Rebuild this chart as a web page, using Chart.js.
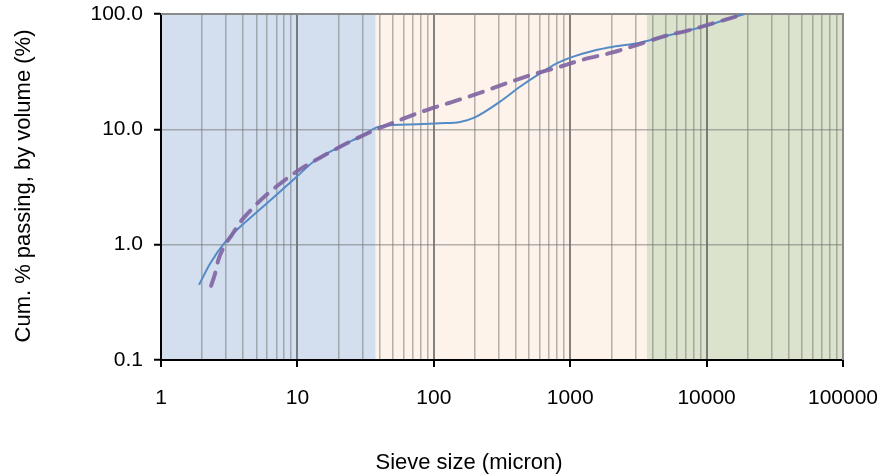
<!DOCTYPE html>
<html>
<head>
<meta charset="utf-8">
<script src="https://cdn.jsdelivr.net/npm/chart.js@4/dist/chart.umd.min.js"></script>
<style>
  html, body { margin: 0; padding: 0; background: #fff; }
  #wrap { width: 883px; height: 474px; }
</style>
</head>
<body>
<div id="wrap"><canvas id="psdChart"></canvas></div>
<script>
// Measured curve (solid) and model curve (dashed)
const solidX = [1.9, 2.3, 2.95, 3.69, 5, 7, 9.88, 13.1, 20.5, 30.4, 38.1, 50, 75, 111, 156, 200, 306, 428, 601, 796, 1054, 1479, 2070, 3250, 4065, 7550, 10000, 14000, 19000];
const solidY = [0.45, 0.69, 1.05, 1.38, 1.9, 2.7, 3.88, 5.24, 7.07, 8.93, 10.4, 10.9, 11.05, 11.27, 11.6, 12.7, 17.4, 23.4, 30.6, 37.3, 42.7, 48.1, 52.1, 56.4, 60.3, 72.6, 79, 90, 100];

const dashedX = [2.33, 2.49, 2.63, 2.9, 3.3, 3.75, 4.37, 5.08, 6.02, 7.25, 10.45, 15.9, 24.3, 37, 56.5, 88.7, 131, 212, 342, 507, 841, 1247, 2014, 3075, 4955, 7550, 12200, 19000];
const dashedY = [0.44, 0.56, 0.735, 0.96, 1.21, 1.53, 1.89, 2.28, 2.75, 3.29, 4.5, 5.98, 7.81, 9.86, 12.05, 14.7, 17.0, 20.5, 25.1, 29.4, 34.9, 40.3, 46.2, 53.8, 64.4, 72.6, 85.7, 100];

// Axis ticks
const xTicks = [1, 10, 100, 1000, 10000, 100000];
const xTickLabels = ["1", "10", "100", "1000", "10000", "100000"];
const yTicks = [0.1, 1, 10, 100];
const yTickLabels = ["0.1", "1.0", "10.0", "100.0"];

// Background size classes (micron boundaries)
const zoneEdges = [1, 37.5, 3650, 100000];
const zoneColors = ["#d3dfee", "#fdf3ea", "#dbe3cd"];

const FONT = "'Liberation Sans', Arial, sans-serif";
const FONT_SIZE = 21;

const toPoints = (xs, ys) => xs.map((x, i) => ({ x: x, y: ys[i] }));

const isMajor = v => xTicks.some(t => Math.abs(t - v) / t < 1e-6);

const zonesPlugin = {
  id: "zones",
  beforeDraw(chart) {
    const { ctx, chartArea: a, scales } = chart;
    ctx.save();
    ctx.fillStyle = "#fff";
    ctx.fillRect(0, 0, chart.width, chart.height);
    for (let i = 0; i < zoneColors.length; i++) {
      const x0 = scales.x.getPixelForValue(zoneEdges[i]);
      const x1 = scales.x.getPixelForValue(zoneEdges[i + 1]);
      ctx.fillStyle = zoneColors[i];
      ctx.fillRect(x0, a.top, x1 - x0, a.bottom - a.top);
    }
    ctx.restore();
  },
  beforeDatasetsDraw(chart) {
    const { ctx, chartArea: a } = chart;
    ctx.save();
    ctx.strokeStyle = "#8a8a8a";
    ctx.lineWidth = 2;
    ctx.beginPath();
    ctx.moveTo(a.left, a.top);
    ctx.lineTo(a.right, a.top);
    ctx.lineTo(a.right, a.bottom);
    ctx.stroke();
    ctx.restore();
  },
  afterDraw(chart) {
    const { ctx } = chart;
    ctx.save();
    ctx.fillStyle = "#000";
    ctx.font = "22px " + FONT;
    ctx.textAlign = "center";
    ctx.textBaseline = "middle";
    ctx.fillText("Sieve size (micron)", 469, 463);
    ctx.translate(24, 186);
    ctx.rotate(-Math.PI / 2);
    ctx.fillText("Cum. % passing, by volume (%)", 0, 0);
    ctx.restore();
  }
};

const ctx = document.getElementById("psdChart").getContext("2d");

const psdChart = new Chart(ctx, {
  type: "scatter",
  data: {
    datasets: [
      {
        label: "Model",
        data: toPoints(dashedX, dashedY),
        showLine: true,
        borderColor: "rgba(128, 100, 162, 0.9)",
        borderWidth: 4,
        borderDash: [14, 10],
        borderCapStyle: "round",
        cubicInterpolationMode: "monotone",
        pointRadius: 0,
        order: 0,
      },
      {
        label: "Measured",
        data: toPoints(solidX, solidY),
        showLine: true,
        borderColor: "#548bc6",
        borderWidth: 2,
        cubicInterpolationMode: "monotone",
        pointRadius: 0,
        order: 1,
      },
    ],
  },
  options: {
    responsive: true,
    maintainAspectRatio: false,
    animation: false,
    layout: { padding: { top: 14, right: 40, left: 0, bottom: 0 } },
    plugins: {
      legend: { display: false },
      tooltip: { enabled: false },
    },
    scales: {
      x: {
        type: "logarithmic",
        min: 1,
        max: 100000,
        afterFit(scale) {
          scale.height = 114;
          scale.paddingLeft = 0;
          scale.paddingRight = 0;
        },
        afterBuildTicks(scale) {
          const ticks = [];
          for (let d = 0; d < 5; d++) {
            for (let m = 1; m <= 9; m++) ticks.push({ value: m * Math.pow(10, d) });
          }
          ticks.push({ value: 100000 });
          scale.ticks = ticks;
        },
        border: { display: true, color: "#000", width: 2 },
        grid: {
          drawTicks: true,
          tickLength: 7,
          lineWidth: c => (c.tick && isMajor(c.tick.value) ? 2 : 1.5),
          color: c => (c.tick && isMajor(c.tick.value) ? "rgba(80, 80, 80, 0.7)" : "rgba(110, 110, 110, 0.5)"),
          tickColor: c => (c.tick && isMajor(c.tick.value) ? "#000" : "rgba(0,0,0,0)"),
          tickWidth: 2,
        },
        ticks: {
          autoSkip: false,
          maxRotation: 0,
          padding: 19,
          color: "#000",
          font: { family: FONT, size: FONT_SIZE },
          callback: v => {
            const i = xTicks.findIndex(t => Math.abs(t - v) / t < 1e-6);
            return i >= 0 ? xTickLabels[i] : "";
          },
        },
      },
      y: {
        type: "logarithmic",
        min: 0.1,
        max: 100,
        afterFit(scale) {
          scale.width = 161;
          scale.paddingTop = 0;
          scale.paddingBottom = 0;
        },
        afterBuildTicks(scale) {
          scale.ticks = yTicks.map(v => ({ value: v }));
        },
        border: { display: true, color: "#000", width: 2 },
        grid: {
          tickLength: 7,
          lineWidth: 1.5,
          color: "rgba(110, 110, 110, 0.5)",
          tickColor: "#000",
          tickWidth: 2,
        },
        ticks: {
          autoSkip: false,
          padding: 11,
          color: "#000",
          font: { family: FONT, size: FONT_SIZE },
          callback: v => {
            const i = yTicks.findIndex(t => Math.abs(t - v) / t < 1e-6);
            return i >= 0 ? yTickLabels[i] : "";
          },
        },
      },
    },
  },
  plugins: [zonesPlugin],
});
</script>
</body>
</html>
